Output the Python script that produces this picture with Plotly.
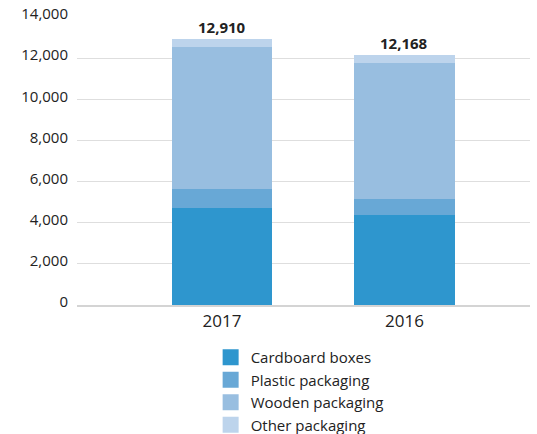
import plotly.graph_objects as go

# Packaging waste by year (tonnes)
years = ["2017", "2016"]
cardboard = [4700, 4380]
plastic = [940, 760]
wooden = [6900, 6610]
other = [370, 418]

series_names = ["Cardboard boxes", "Plastic packaging", "Wooden packaging", "Other packaging"]
series_values = [cardboard, plastic, wooden, other]
series_colors = ["#2e96ce", "#68a8d6", "#98bee0", "#bdd4ec"]

totals = [sum(v) for v in zip(*series_values)]

FONT = "Open Sans"

fig = go.Figure()
for name, vals, col in zip(series_names, series_values, series_colors):
    fig.add_trace(go.Bar(
        x=years, y=vals, name=name, marker=dict(color=col, line=dict(width=0)),
        width=0.55, showlegend=False, hoverinfo="y+name",
    ))
    # square legend swatch
    fig.add_trace(go.Scatter(
        x=[None], y=[None], mode="markers", name=name,
        marker=dict(symbol="square", size=17, color=col),
    ))

# total label above each stack (category index used as the x position)
for i, tot in enumerate(totals):
    fig.add_annotation(
        x=i, y=tot, xref="x", yref="y", text=f"<b>{tot:,}</b>", showarrow=False,
        yanchor="bottom", yshift=0,
        font=dict(family=FONT, size=15, color="#222"),
    )

fig.update_layout(
    width=537, height=434,
    margin=dict(l=77, r=7, t=17, b=129, autoexpand=False),
    barmode="stack",
    plot_bgcolor="white", paper_bgcolor="white",
    showlegend=True,
    legend=dict(
        orientation="v", traceorder="normal",
        x=0.295, xanchor="left", y=-0.125, yanchor="top",
        font=dict(family=FONT, size=15, color="#222"),
        tracegroupgap=0, itemwidth=30,
        bgcolor="rgba(0,0,0,0)",
    ),
    xaxis=dict(
        type="category", range=[-0.795, 1.688],
        showgrid=False, showline=True, linecolor="#d4d4d4", linewidth=2,
        ticks="", tickfont=dict(family=FONT, size=17, color="#222"),
        fixedrange=True,
    ),
    yaxis=dict(
        range=[0, 14000], dtick=2000, tickformat=",",
        showgrid=True, gridcolor="#dedede", gridwidth=1,
        zeroline=False, showline=False, ticks="",
        tickfont=dict(family=FONT, size=15, color="#222"),
        ticklabelstandoff=8, ticklabelshift=-3,
        fixedrange=True,
    ),
)

fig.write_html("out.html")
